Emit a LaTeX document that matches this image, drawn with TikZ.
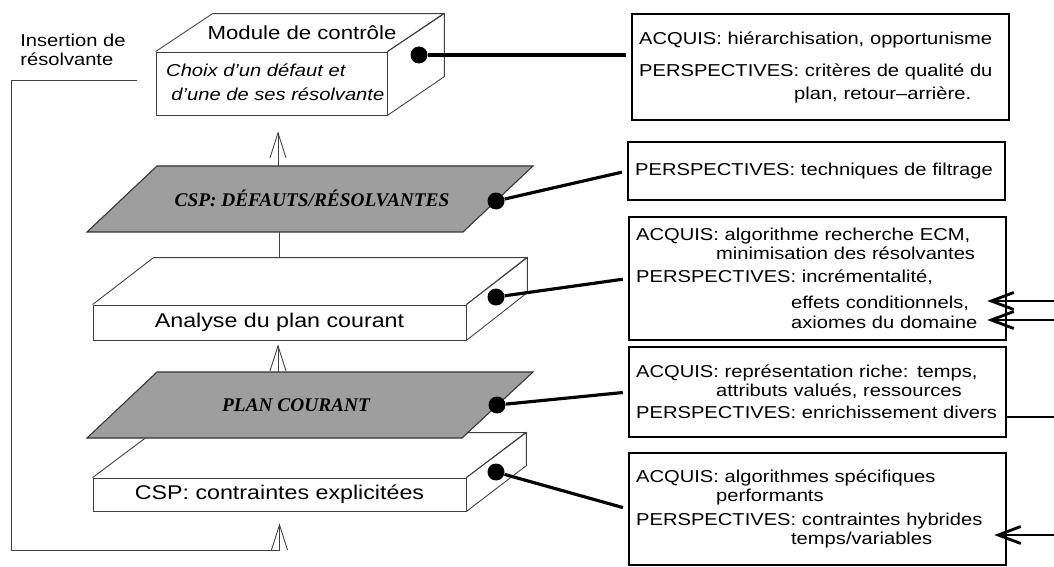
\documentclass[tikz,border=0pt]{standalone}
\usepackage{fontspec}
\setmainfont{Liberation Sans}[FakeStretch=1.17]
\newfontfamily\slabfont{Liberation Serif}
\usetikzlibrary{arrows.meta}

\begin{document}
\begin{tikzpicture}[
  x=0.02cm, y=-0.02cm,
  font=\fontsize{9.8}{10.8}\selectfont,
  face/.style={draw=black!75, line width=0.5pt},
  big/.style={font=\fontsize{11.3}{12}\selectfont},
  slab/.style={fill=black!38, draw=black!80, line width=0.6pt},
  slabtxt/.style={font=\slabfont\bfseries\itshape\fontsize{11}{13}\selectfont},
  info/.style={draw, line width=1.3pt, align=left, text width=7.26cm,
    inner xsep=4pt, anchor=west},
  dot/.style={circle, fill, inner sep=0pt, minimum size=0.34cm},
  link/.style={line width=1.8pt, shorten >=3pt},
  up/.style={line width=0.5pt, draw=black!75, -{Straight Barb[length=5mm,width=3.2mm]}},
  inarr/.style={line width=1.6pt, -{Straight Barb[length=4.5mm,width=3.4mm]}},
]
\useasboundingbox (0,0) rectangle (1054,567);

%--- MODULE DE CONTROLE (top box) ---
\node[face, minimum width=4.62cm, minimum height=1.26cm, inner sep=0pt]
  (mod) at (271.5,83.5) {};
\draw[face] (mod.north west) -- ++(57,-38) -- ++(231,0) -- (mod.north east);
\draw[face] (mod.north east) -- ++(57,-38) -- ++(0,63) -- (mod.south east);
\node[font=\fontsize{10.8}{12}\selectfont] (modtop) at (302,33) {Module de contrôle};
\node[anchor=west, align=left, font=\fontsize{9.8}{10.8}\selectfont\itshape]
  (choix) at (160,82) {Choix d'un défaut et\\[2.9pt]\hspace*{3pt}d'une de ses résolvante};

%--- ANALYSE DU PLAN COURANT ---
\node[face, big, minimum width=7.46cm, minimum height=0.7cm]
  (anal) at (279.5,322.5) {Analyse du plan courant};
\draw[face] (anal.north west) -- ++(61,-47) -- ++(373,0) -- (anal.north east);
\draw[face] (anal.north east) -- ++(61,-47) -- ++(0,35) -- (anal.south east);

%--- CSP: CONTRAINTES EXPLICITEES ---
\node[face, big, minimum width=7.46cm, minimum height=0.66cm]
  (csp) at (279.5,494.5) {CSP: contraintes explicitées};
\draw[face] (csp.north west) -- ++(60,-45) -- ++(373,0) -- (csp.north east);
\draw[face] (csp.north east) -- ++(60,-45) -- ++(0,33) -- (csp.south east);

%--- SLABS ---
\filldraw[slab] (87,232) -- (157,166) -- (533,166) -- (463,232) -- cycle;
\node[slabtxt] (sdr) at (312,198) {CSP: DÉFAUTS/RÉSOLVANTES};
\filldraw[slab] (87,438) -- (157,372) -- (533,372) -- (462,438) -- cycle;
\node[slabtxt] (spc) at (296,405) {PLAN COURANT};
\coordinate (s1n) at (278,166);
\coordinate (s1s) at (279,232);
\coordinate (anb) at (279,258);
\coordinate (s2n) at (278,372);

%--- LEFT FEEDBACK ---
\node[anchor=north west, align=left, inner sep=0pt]
  (ins) at (20,34) {Insertion de\\résolvante};
\coordinate (fb) at (137,80);

%--- RIGHT BOXES ---
\node[info, minimum height=2.12cm] (b1) at (631,67)
  {ACQUIS: hiérarchisation, opportunisme\\[7.4pt]
   PERSPECTIVES: critères de qualité du\\[2.3pt]
   \hspace*{3.1cm}plan, retour–arrière.};
\node[info, minimum height=1.16cm] (b2) at (627,171)
  {PERSPECTIVES: techniques de filtrage};
\node[info, minimum height=2.46cm] (b3) at (628,278.5)
  {ACQUIS: algorithme recherche ECM,\\
   \hspace*{1.6cm}minimisation des résolvantes\\[2pt]
   PERSPECTIVES: incrémentalité,\\[4pt]
   \hspace*{3.1cm}effets conditionnels,\\[1pt]
   \hspace*{3.1cm}axiomes du domaine};
\node[info, minimum height=1.8cm] (b4) at (628,392)
  {ACQUIS: représentation riche: temps,\\
   \hspace*{1.6cm}attributs valués, ressources\\[1.7pt]
   PERSPECTIVES: enrichissement divers};
\node[info, minimum height=2.24cm] (b5) at (628,509)
  {ACQUIS: algorithmes spécifiques\\
   \hspace*{1.6cm}performants\\[2.8pt]
   PERSPECTIVES: contraintes hybrides\\
   \hspace*{3.1cm}temps/variables};

%--- DOTS ---
\node[dot] (d1) at (419,55) {};
\node[dot] (d2) at (496,201) {};
\node[dot] (d3) at (496,297) {};
\node[dot] (d4) at (497,405) {};
\node[dot] (d5) at (496,472) {};

%--- INCOMING (right edge) ---
\coordinate (e1) at (1054,301);
\coordinate (e2) at (1054,320);
\coordinate (e3) at (1054,417);
\coordinate (e4) at (1054,535);

%--- ARROWS ---
\draw[up, shorten >=0.32cm] (s1n) -- (s1n |- mod.south);
\draw[face] (s1s) -- (anb);
\draw[up, shorten >=0.08cm] (s2n) -- (s2n |- anal.south);
\draw[up, shorten >=0.24cm] (fb) -| ++(-126,470) -| (csp.south);
\draw[face] (fb) -- ++(-126,0);

\draw[link] (d1) -- (d1 -| b1.west);
\draw[link] (d2) -- (b2.west);
\draw[link] (d3) -- (b3.west);
\draw[link] (d4) -- (b4.west);
\draw[link] (d5) -- (b5.west);

\draw[inarr, shorten >=-0.4cm] (e1) -- (e1 -| b3.east);
\draw[inarr, shorten >=-0.4cm] (e2) -- (e2 -| b3.east);
\draw[line width=1.2pt] (e3) -- (e3 -| b4.east);
\draw[inarr, shorten >=-0.26cm] (e4) -- (e4 -| b5.east);
\end{tikzpicture}
\end{document}
